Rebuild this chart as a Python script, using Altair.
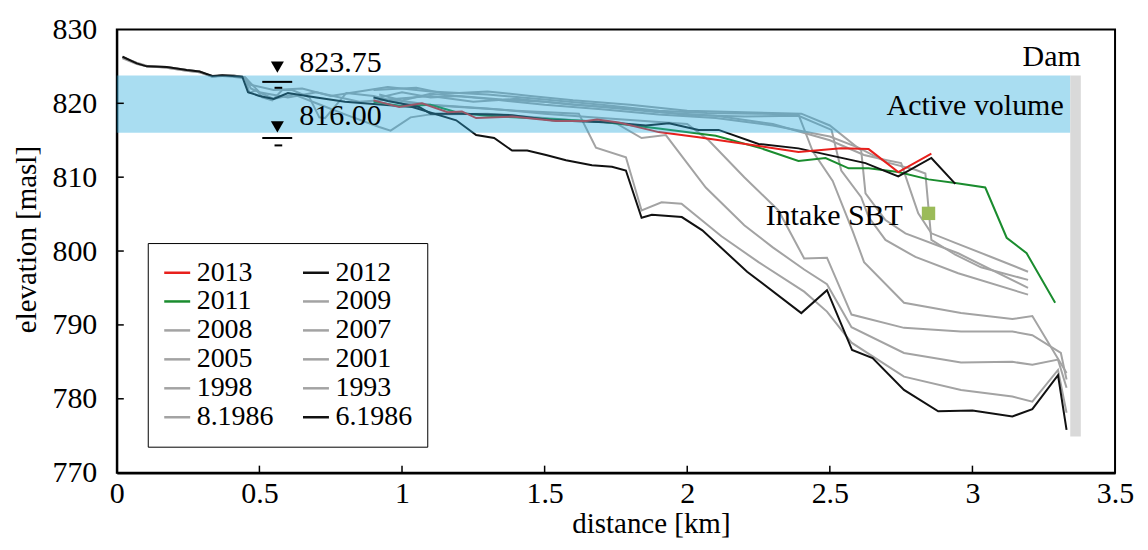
import altair as alt
import pandas as pd

FONT = "Liberation Serif"

# legend order (column-major layout gives the reference's row order)
series_order = ["2013", "2011", "2008", "2005", "1998", "8.1986",
                "2012", "2009", "2007", "2001", "1993", "6.1986"]
series_colors = ["#e8201c", "#1a8c2e", "#a3a3a3", "#a3a3a3", "#a3a3a3", "#a3a3a3",
                 "#111111", "#a3a3a3", "#a3a3a3", "#a3a3a3", "#a3a3a3", "#111111"]

x_2013 = [0.9, 0.99, 1.07, 1.16, 1.21, 1.26, 1.386, 1.54, 1.645, 1.684, 1.76, 1.90, 2.04, 2.24, 2.39, 2.54, 2.636, 2.74, 2.856]
y_2013 = [820.4, 819.5, 820.0, 818.8, 818.9, 818.0, 818.2, 817.6, 817.6, 817.8, 817.4, 816.1, 815.4, 814.3, 813.4, 813.9, 813.8, 810.7, 813.2]

x_2012 = [0.9, 0.95, 1.06, 1.1, 1.21, 1.386, 1.526, 1.736, 1.855, 1.936, 2.04, 2.11, 2.25, 2.39, 2.625, 2.74, 2.856, 2.94]
y_2012 = [820.8, 820.3, 819.5, 818.6, 818.6, 818.4, 817.7, 817.4, 817.0, 817.3, 816.4, 816.4, 814.5, 813.9, 811.9, 810.1, 812.6, 809.1]

x_2011 = [0.9, 1.0, 1.1, 1.2, 1.3, 1.5, 1.7, 1.9, 2.1, 2.26, 2.39, 2.485, 2.566, 2.636, 2.74, 2.846, 2.94, 3.045, 3.12, 3.19, 3.29]
y_2011 = [820.2, 819.6, 819.8, 818.7, 818.3, 817.9, 817.5, 816.6, 815.6, 813.9, 812.2, 812.6, 811.2, 811.2, 810.7, 809.7, 809.2, 808.6, 801.8, 799.7, 793.0]

x_2009 = [0.9, 1.0, 1.1, 1.2, 1.35, 1.5, 1.7, 1.9, 2.1, 2.3, 2.5, 2.62, 2.7, 2.75, 2.786, 2.81, 2.856, 2.94, 3.066, 3.195]
y_2009 = [820.6, 821.5, 820.8, 821.0, 820.5, 820.2, 819.5, 818.8, 818.3, 817.2, 815.0, 813.0, 812.3, 811.9, 807.8, 805.1, 802.4, 801.1, 799.2, 797.2]

x_2008 = [0.92, 1.0, 1.1, 1.3, 1.5, 1.7, 1.9, 2.1, 2.3, 2.5, 2.6, 2.7, 2.8, 2.835, 2.856, 2.94, 3.03, 3.195]
y_2008 = [821.2, 820.4, 821.3, 820.6, 819.8, 819.2, 818.5, 818.0, 817.0, 815.5, 814.0, 812.0, 811.0, 810.5, 801.5, 799.5, 797.8, 796.1]

x_2007 = [0.9, 1.05, 1.15, 1.3, 1.45, 1.6, 1.8, 2.0, 2.2, 2.4, 2.5, 2.61, 2.625, 2.695, 2.765, 2.95, 3.195]
y_2007 = [821.8, 822.1, 821.3, 821.6, 821.0, 820.4, 819.8, 819.0, 818.8, 818.6, 817.0, 813.6, 807.8, 804.2, 802.4, 799.7, 795.0]

x_2005 = [0.95, 1.1, 1.25, 1.4, 1.6, 1.8, 2.0, 2.2, 2.39, 2.506, 2.54, 2.61, 2.636, 2.695, 2.80, 2.95, 3.195]
y_2005 = [820.5, 821.0, 820.2, 820.6, 819.8, 819.3, 818.4, 818.2, 818.3, 816.4, 810.9, 807.3, 804.6, 801.5, 799.2, 797.0, 794.1]

x_2001 = [0.02, 0.07, 0.105, 0.175, 0.245, 0.29, 0.335, 0.37, 0.405, 0.45, 0.47, 0.55, 0.65, 0.75, 0.85, 0.95, 1.1, 1.3, 1.5, 1.7, 1.9, 2.07, 2.25, 2.39, 2.44, 2.51, 2.58, 2.62, 2.76, 2.96, 3.14, 3.21, 3.33]
y_2001 = [826.3, 825.4, 825.0, 824.9, 824.5, 824.3, 823.6, 823.8, 823.8, 823.5, 822.5, 821.8, 822.0, 821.0, 821.6, 822.2, 821.6, 821.2, 820.5, 819.8, 819.0, 818.7, 818.6, 818.5, 813.5, 809.5, 802.7, 798.5, 793.0, 791.6, 790.8, 791.2, 783.5]

x_1998 = [0.02, 0.07, 0.105, 0.175, 0.245, 0.29, 0.335, 0.37, 0.405, 0.45, 0.5, 0.6, 0.7, 0.85, 0.96, 1.1, 1.3, 1.5, 1.7, 1.85, 2.0, 2.075, 2.2, 2.32, 2.41, 2.49, 2.576, 2.76, 2.96, 3.14, 3.21, 3.31, 3.33]
y_1998 = [826.2, 825.4, 825.0, 824.9, 824.5, 824.3, 823.6, 823.8, 823.8, 823.5, 821.5, 820.8, 821.5, 820.2, 820.5, 819.8, 819.3, 818.6, 818.0, 817.6, 817.2, 815.0, 810.0, 805.5, 799.0, 799.1, 791.4, 789.6, 789.1, 789.1, 788.6, 786.2, 782.6]

x_1993 = [0.02, 0.07, 0.105, 0.175, 0.245, 0.29, 0.335, 0.37, 0.405, 0.45, 0.47, 0.55, 0.62, 0.7, 0.8, 0.92, 0.96, 1.03, 1.1, 1.3, 1.5, 1.75, 1.84, 1.925, 2.065, 2.2, 2.3, 2.41, 2.49, 2.576, 2.76, 2.96, 3.14, 3.21, 3.30, 3.33]
y_1993 = [826.1, 825.3, 825.0, 824.8, 824.4, 824.2, 823.7, 823.7, 823.6, 823.4, 822.0, 820.6, 821.2, 820.0, 818.5, 816.8, 816.3, 818.1, 818.5, 818.6, 818.0, 817.3, 815.3, 815.7, 808.6, 803.5, 800.5, 797.5, 795.5, 789.7, 786.2, 784.9, 785.0, 784.6, 785.3, 781.5]

x_8_1986 = [0.02, 0.07, 0.105, 0.175, 0.245, 0.29, 0.335, 0.37, 0.405, 0.45, 0.465, 0.49, 0.51, 0.545, 0.58, 0.615, 0.675, 0.71, 0.73, 0.805, 0.9, 1.0, 1.2, 1.4, 1.62, 1.68, 1.785, 1.84, 1.91, 1.98, 2.12, 2.25, 2.41, 2.49, 2.576, 2.76, 2.96, 3.14, 3.21, 3.30, 3.33]
y_8_1986 = [826.2, 825.5, 825.1, 824.8, 824.4, 824.2, 823.6, 823.7, 823.8, 823.4, 821.4, 821.8, 820.8, 820.4, 821.8, 821.8, 820.8, 818.1, 818.0, 821.4, 821.0, 820.0, 819.5, 819.0, 818.6, 814.0, 812.7, 805.5, 806.6, 806.4, 802.0, 798.5, 794.5, 791.8, 787.6, 783.0, 781.2, 780.3, 779.6, 783.9, 778.1]

x_6_1986 = [0.02, 0.07, 0.105, 0.175, 0.245, 0.29, 0.335, 0.37, 0.405, 0.44, 0.46, 0.5, 0.55, 0.6, 0.7, 0.8, 0.9, 1.036, 1.19, 1.26, 1.323, 1.386, 1.439, 1.505, 1.575, 1.666, 1.736, 1.785, 1.84, 1.876, 1.981, 2.053, 2.21, 2.40, 2.49, 2.578, 2.65, 2.76, 2.88, 3.0, 3.14, 3.21, 3.30, 3.33]
y_6_1986 = [826.3, 825.4, 825.0, 824.9, 824.5, 824.3, 823.7, 823.8, 823.7, 823.6, 821.5, 821.0, 820.6, 821.4, 820.8, 820.2, 819.9, 819.5, 817.7, 815.7, 815.3, 813.6, 813.6, 813.0, 812.3, 811.6, 811.4, 810.9, 804.5, 804.9, 804.6, 802.8, 797.2, 791.6, 794.7, 786.6, 785.5, 781.2, 778.3, 778.4, 777.6, 778.6, 783.2, 775.8]

series_data = {
    "2013": (x_2013, y_2013), "2012": (x_2012, y_2012), "2011": (x_2011, y_2011),
    "2009": (x_2009, y_2009), "2008": (x_2008, y_2008), "2007": (x_2007, y_2007),
    "2005": (x_2005, y_2005), "2001": (x_2001, y_2001), "1998": (x_1998, y_1998),
    "1993": (x_1993, y_1993), "8.1986": (x_8_1986, y_8_1986), "6.1986": (x_6_1986, y_6_1986),
}

# active volume band and dam
band_levels = [816.00, 823.75]
band_x = [0.0, 3.343]
dam_x = [3.343, 3.38]
dam_y = [774.9, 823.75]

# annotations
texts = ["Dam", "Active volume", "Intake SBT", "823.75", "816.00"]
text_x = [3.38, 3.32, 2.275, 0.64, 0.64]
text_y = [826.2, 819.6, 804.8, 825.5, 818.3]
text_align = ["right", "right", "left", "left", "left"]

intake_x = [2.846]
intake_y = [805.1]

wl_tri_y = [824.9, 816.8]
wl_long_y = [822.9, 815.3]
wl_short_y = [822.1, 814.3]
wl_x = 0.563

x_ticks = [0.0, 0.5, 1.0, 1.5, 2.0, 2.5, 3.0, 3.5]
y_ticks = [770, 780, 790, 800, 810, 820, 830]

rows = []
for s in series_order:
    xs, ys = series_data[s]
    for i, (xv, yv) in enumerate(zip(xs, ys)):
        rows.append({"series": s, "x": xv, "y": yv, "i": i})
df = pd.DataFrame(rows)

xscale = alt.Scale(domain=[0, 3.5], nice=False, zero=False)
yscale = alt.Scale(domain=[770, 830], nice=False, zero=False)

xaxis = alt.Axis(values=x_ticks, format="~g", ticks=False, tickSize=0, grid=False,
                 labelFontSize=30, labelPadding=6, labelFlush=False, labelOverlap=False,
                 title="distance [km]", titleFontSize=29, titleX=535, titleY=51,
                 titleBaseline="middle", titleAlign="center",
                 domainColor="black", domainWidth=2.5)
yaxis = alt.Axis(values=y_ticks, format="d", ticks=False, tickSize=0, grid=False,
                 labelFontSize=30, labelPadding=20, labelFlush=False, labelOverlap=False,
                 title="elevation [masl]", titleFontSize=29, titleX=-90, titleY=210,
                 titleAngle=-90, titleBaseline="middle", titleAlign="center",
                 domainColor="black", domainWidth=2)

color = alt.Color("series:N",
                  scale=alt.Scale(domain=series_order, range=series_colors),
                  legend=alt.Legend(title=None, orient="none", legendX=31, legendY=214,
                                    columns=2, symbolType="stroke", symbolSize=676,
                                    symbolStrokeWidth=2.5, labelFont=FONT, labelFontSize=28,
                                    labelColor="black", strokeColor="black", fillColor="white",
                                    padding=15, rowPadding=0, columnPadding=24, labelOffset=5,
                                    labelLimit=300))

base = alt.Chart(df)


def line_layer(names):
    return base.transform_filter(
        alt.FieldOneOfPredicate(field="series", oneOf=names)
    ).mark_line(strokeWidth=2).encode(
        x=alt.X("x:Q", scale=xscale, axis=xaxis),
        y=alt.Y("y:Q", scale=yscale, axis=yaxis),
        color=color,
        detail="series:N",
        order="i:Q",
    )


gray_names = ["2009", "2008", "2007", "2005", "2001", "1998", "1993", "8.1986"]
lines_gray = line_layer(gray_names)
line_61986 = line_layer(["6.1986"])
line_2011 = line_layer(["2011"])
line_2012 = line_layer(["2012"])
line_2013 = line_layer(["2013"])

band_df = pd.DataFrame({"x": [band_x[0]], "x2": [band_x[1]], "y": [band_levels[0]], "y2": [band_levels[1]]})
band = alt.Chart(band_df).mark_rect(color="#28aadc", opacity=0.4).encode(
    x=alt.X("x:Q", scale=xscale), x2="x2:Q", y=alt.Y("y:Q", scale=yscale), y2="y2:Q")

dam_df = pd.DataFrame({"x": [dam_x[0]], "x2": [dam_x[1]], "y": [dam_y[0]], "y2": [dam_y[1]]})
dam = alt.Chart(dam_df).mark_rect(color="#d9d9d9").encode(
    x=alt.X("x:Q", scale=xscale), x2="x2:Q", y=alt.Y("y:Q", scale=yscale), y2="y2:Q")

xt_df = pd.DataFrame({"x": x_ticks[1:-1]})
xtick_rules = alt.Chart(xt_df).mark_rule(color="black", strokeWidth=1.5).encode(
    x=alt.X("x:Q", scale=xscale), y=alt.value(444), y2=alt.value(437))
yt_df = pd.DataFrame({"y": y_ticks[1:-1]})
ytick_rules = alt.Chart(yt_df).mark_rule(color="black", strokeWidth=1.5).encode(
    y=alt.Y("y:Q", scale=yscale), x=alt.value(0), x2=alt.value(7))

tri_df = pd.DataFrame({"x": [wl_x, wl_x], "y": wl_tri_y})
tris = alt.Chart(tri_df).mark_point(shape="triangle-down", filled=True, color="black",
                                    size=170, opacity=1).encode(
    x=alt.X("x:Q", scale=xscale), y=alt.Y("y:Q", scale=yscale))
long_df = pd.DataFrame({"x": [0.51, 0.51], "x2": [0.615, 0.615], "y": wl_long_y})
long_rules = alt.Chart(long_df).mark_rule(color="black", strokeWidth=2).encode(
    x=alt.X("x:Q", scale=xscale), x2="x2:Q", y=alt.Y("y:Q", scale=yscale))
short_df = pd.DataFrame({"x": [0.553, 0.553], "x2": [0.58, 0.58], "y": wl_short_y})
short_rules = alt.Chart(short_df).mark_rule(color="black", strokeWidth=2).encode(
    x=alt.X("x:Q", scale=xscale), x2="x2:Q", y=alt.Y("y:Q", scale=yscale))

intake_df = pd.DataFrame({"x": intake_x, "y": intake_y})
intake = alt.Chart(intake_df).mark_point(shape="square", filled=True, color="#9bbb59",
                                         size=180, opacity=1).encode(
    x=alt.X("x:Q", scale=xscale), y=alt.Y("y:Q", scale=yscale))

text_layers = []
for t, tx, ty, ta in zip(texts, text_x, text_y, text_align):
    tdf = pd.DataFrame({"x": [tx], "y": [ty], "t": [t]})
    text_layers.append(
        alt.Chart(tdf).mark_text(font=FONT, fontSize=30, color="black", align=ta,
                                 baseline="middle").encode(
            x=alt.X("x:Q", scale=xscale), y=alt.Y("y:Q", scale=yscale), text="t:N"))

chart = alt.layer(
    lines_gray, line_61986, line_2011, line_2012, line_2013,
    band, dam, xtick_rules, ytick_rules, tris, long_rules, short_rules, intake,
    *text_layers
).properties(
    width=1000, height=444,
    padding={"left": 109, "top": 21, "right": 25, "bottom": 69},
    autosize=alt.AutoSizeParams(type="none"),
).configure_view(
    stroke="black", strokeWidth=2
).configure_axis(
    labelFont=FONT, titleFont=FONT, labelColor="black", titleColor="black",
    titleFontWeight="normal"
)

chart.save("out.html", embed_options={"renderer": "svg", "actions": False})
